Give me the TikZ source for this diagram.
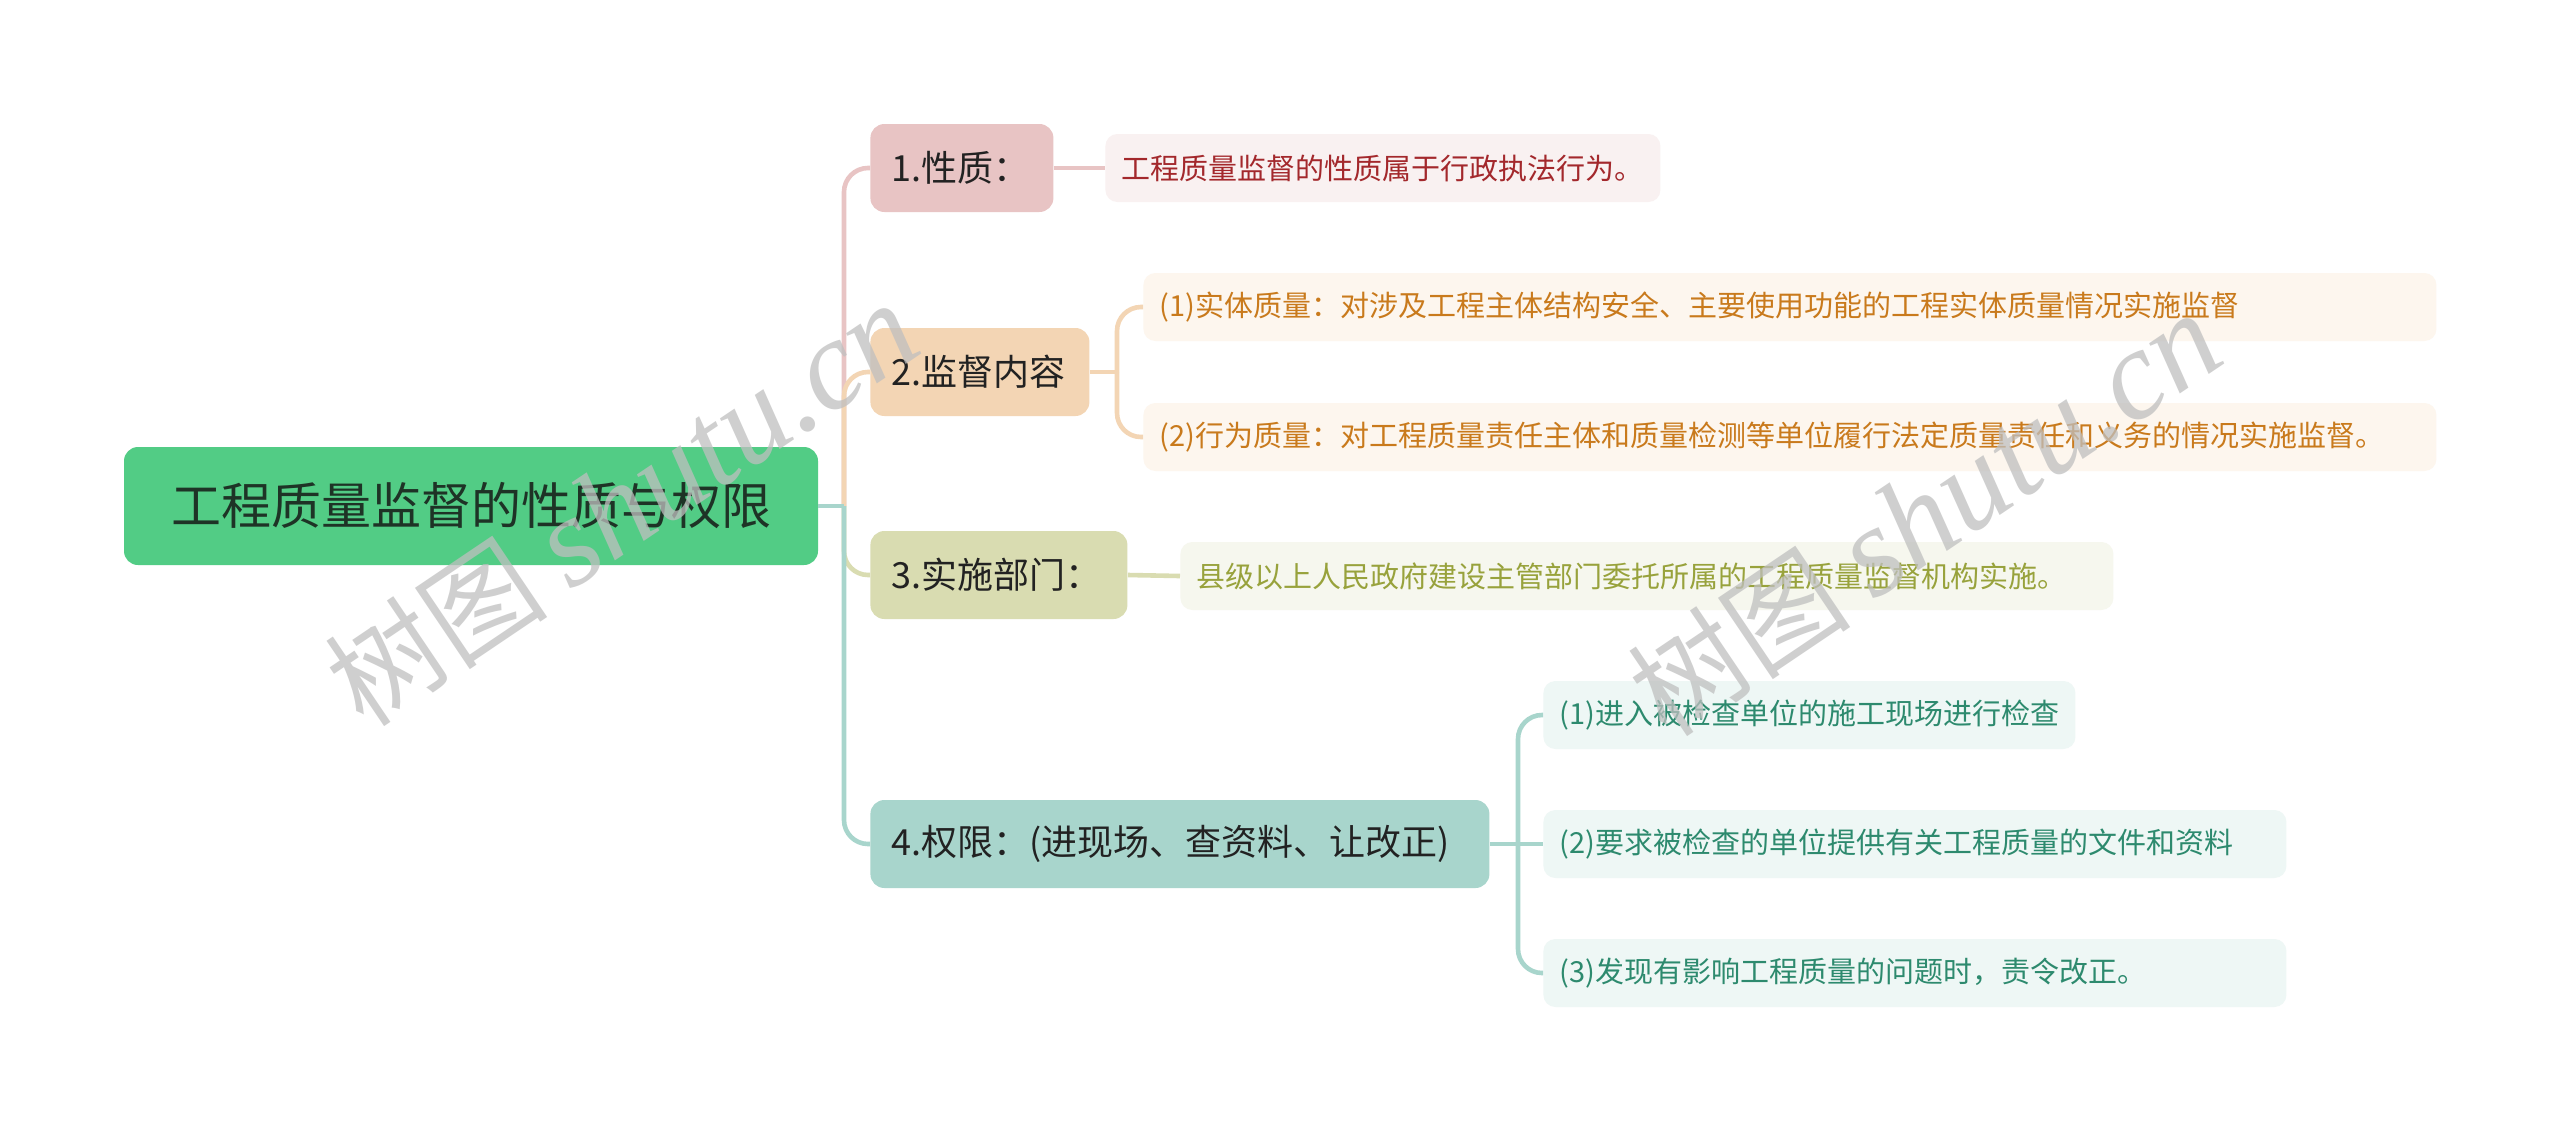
\documentclass[tikz,border=0pt]{standalone}
\usepackage{fontspec}
\setmainfont{Noto Sans CJK SC}
\newfontfamily\wmcjk{Noto Sans CJK SC}
\newfontfamily\wmlat{Liberation Serif}
\definecolor{rootfill}{HTML}{52CC85}
\definecolor{roottext}{HTML}{1E3326}
\definecolor{lvtext}{HTML}{222222}
\definecolor{cA}{HTML}{E8C4C4}\definecolor{cAleaf}{HTML}{F9F1F1}\definecolor{cAtext}{HTML}{A3282C}
\definecolor{cB}{HTML}{F3D5B4}\definecolor{cBleaf}{HTML}{FDF6EE}\definecolor{cBtext}{HTML}{C97A1C}
\definecolor{cC}{HTML}{D9DCB1}\definecolor{cCleaf}{HTML}{F6F7EE}\definecolor{cCtext}{HTML}{98A23C}
\definecolor{cD}{HTML}{A8D5CC}\definecolor{cDleaf}{HTML}{EEF7F5}\definecolor{cDtext}{HTML}{2D8A6E}
\begin{document}
\begin{tikzpicture}[x=0.5pt,y=-0.5pt,
  box/.style={rectangle, rounded corners=7pt, draw=none, inner sep=0pt, anchor=west},
  lvbox/.style={box, minimum height=44pt},
  leafbox/.style={box, minimum height=34pt, rounded corners=6pt},
  lvlab/.style={anchor=west, inner sep=0pt, text=lvtext, font=\fontsize{18pt}{21pt}\selectfont},
  leaflab/.style={anchor=west, inner sep=0pt, font=\fontsize{14.5pt}{17pt}\selectfont},
  conn/.style={line width=2.3pt, rounded corners=12pt},
  wm/.style={rotate=34, text=black!25, opacity=0.75, inner sep=0pt}
]
\fill[white] (0,0) rectangle (2560,1131);
\useasboundingbox (0,0) rectangle (2560,1131);

% root
\node[box, anchor=center, fill=rootfill, minimum width=347pt, minimum height=59pt] (root) at (471,506) {};
\node[inner sep=0pt, text=roottext, font=\fontsize{25pt}{28pt}\selectfont] (roott) at (root.center) {工程质量监督的性质与权限};

% level 1
\node[lvbox, fill=cA, minimum width=91.5pt] (n1) at (870,168) {};
\node[lvlab] (n1t) at ([xshift=10.5pt]n1.west) {1.性质：};
\node[lvbox, fill=cB, minimum width=109.5pt] (n2) at (870,372) {};
\node[lvlab] (n2t) at ([xshift=10.5pt]n2.west) {2.监督内容};
\node[lvbox, fill=cC, minimum width=128.5pt] (n3) at (870,575) {};
\node[lvlab] (n3t) at ([xshift=10.5pt]n3.west) {3.实施部门：};
\node[lvbox, fill=cD, minimum width=309.5pt] (n4) at (870,844) {};
\node[lvlab] (n4t) at ([xshift=10.5pt]n4.west) {4.权限：(进现场、查资料、让改正)};

% leaves
\node[leafbox, fill=cAleaf, minimum width=277.5pt] (l1) at (1105,168) {};
\node[leaflab, text=cAtext] (l1t) at ([xshift=8pt]l1.west) {工程质量监督的性质属于行政执法行为。};
\node[leafbox, fill=cBleaf, minimum width=646.5pt] (l2a) at (1143,307) {};
\node[leaflab, text=cBtext] (l2at) at ([xshift=8pt]l2a.west) {(1)实体质量：对涉及工程主体结构安全、主要使用功能的工程实体质量情况实施监督};
\node[leafbox, fill=cBleaf, minimum width=646.5pt] (l2b) at (1143,437) {};
\node[leaflab, text=cBtext] (l2bt) at ([xshift=8pt]l2b.west) {(2)行为质量：对工程质量责任主体和质量检测等单位履行法定质量责任和义务的情况实施监督。};
\node[leafbox, fill=cCleaf, minimum width=466.5pt] (l3) at (1180,576) {};
\node[leaflab, text=cCtext] (l3t) at ([xshift=8pt]l3.west) {县级以上人民政府建设主管部门委托所属的工程质量监督机构实施。};
\node[leafbox, fill=cDleaf, minimum width=266pt] (l4a) at (1543,715) {};
\node[leaflab, text=cDtext] (l4at) at ([xshift=8pt]l4a.west) {(1)进入被检查单位的施工现场进行检查};
\node[leafbox, fill=cDleaf, minimum width=371.5pt] (l4b) at (1543,844) {};
\node[leaflab, text=cDtext] (l4bt) at ([xshift=8pt]l4b.west) {(2)要求被检查的单位提供有关工程质量的文件和资料};
\node[leafbox, fill=cDleaf, minimum width=371.5pt] (l4c) at (1543,973) {};
\node[leaflab, text=cDtext] (l4ct) at ([xshift=8pt]l4c.west) {(3)发现有影响工程质量的问题时，责令改正。};

% connectors
\coordinate (trunk) at (844,506);
\coordinate (j2) at (1117,372);
\coordinate (j4) at (1518,844);
\draw[conn, draw=cA] (trunk) |- (n1.west);
\draw[conn, draw=cB] (trunk) |- (n2.west);
\draw[conn, draw=cC] (trunk) |- (n3.west);
\draw[conn, draw=cD] (trunk) |- (n4.west);
\draw[conn, draw=cD] (root.east) -- (trunk);

\draw[conn, draw=cA] (n1.east) -- (l1.west);
\draw[conn, draw=cB] (n2.east) -- (j2);
\draw[conn, draw=cB] (j2) |- (l2a.west);
\draw[conn, draw=cB] (j2) |- (l2b.west);
\draw[conn, draw=cC] (n3.east) -- (l3.west);
\draw[conn, draw=cD] (n4.east) -- (j4);
\draw[conn, draw=cD] (j4) |- (l4a.west);
\draw[conn, draw=cD] (j4) -- (l4b.west);
\draw[conn, draw=cD] (j4) |- (l4c.west);

% watermarks
\node[wm] (wm1) at (622,505) {{\fontsize{56pt}{60pt}\selectfont\wmcjk 树图}\hspace{12pt}{\fontsize{64pt}{68pt}\selectfont\wmlat\itshape shutu.cn}};
\node[wm] (wm2) at (1925,515) {{\fontsize{56pt}{60pt}\selectfont\wmcjk 树图}\hspace{12pt}{\fontsize{64pt}{68pt}\selectfont\wmlat\itshape shutu.cn}};
\end{tikzpicture}
\end{document}
